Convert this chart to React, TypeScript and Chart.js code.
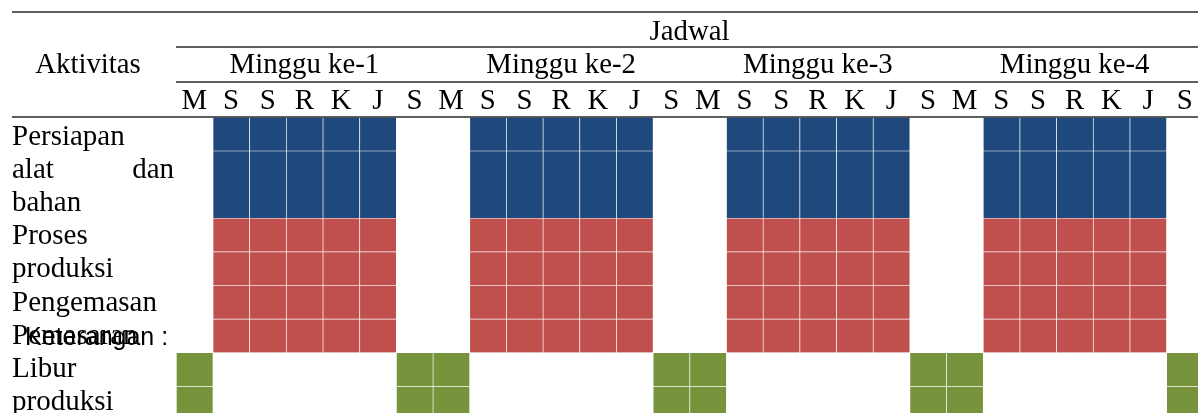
import React, { useEffect, useRef } from "react";
import { Chart, registerables } from "chart.js";

Chart.register(...registerables);

// ---- data ----
const headerTitle = "Jadwal";
const columnTitle = "Aktivitas";
const weekLabels = ["Minggu ke-1", "Minggu ke-2", "Minggu ke-3", "Minggu ke-4"];
const dayLabels = [
  "M", "S", "S", "R", "K", "J", "S",
  "M", "S", "S", "R", "K", "J", "S",
  "M", "S", "S", "R", "K", "J", "S",
  "M", "S", "S", "R", "K", "J", "S",
];
// 1 = day on which the activity runs
const persiapanDays = [0,1,1,1,1,1,0, 0,1,1,1,1,1,0, 0,1,1,1,1,1,0, 0,1,1,1,1,1,0];
const produksiDays  = [0,1,1,1,1,1,0, 0,1,1,1,1,1,0, 0,1,1,1,1,1,0, 0,1,1,1,1,1,0];
const liburDays     = [1,0,0,0,0,0,1, 1,0,0,0,0,0,1, 1,0,0,0,0,0,1, 1,0,0,0,0,0,1];
// text rows of the activity column (row spans below are in these text rows)
const activityLines = [
  "Persiapan", "alat dan", "bahan",
  "Proses", "produksi", "Pengemasan", "Pemasaran",
  "Libur", "produksi",
];
const justifiedLines = [1];
const noteLabel = "Keterangan :";
const noteLine = 6;
const persiapanRows = [[0, 1], [1, 3]];
const produksiRows = [[3, 4], [4, 5], [5, 6], [6, 7]];
const liburRows = [[7, 8], [8, 9]];

const BLUE = "#1F497D";
const RED = "#C0504D";
const GREEN = "#77933C";
const SERIF = '"Liberation Serif", "Times New Roman", serif';
const SANS = '"Liberation Sans", Arial, sans-serif';

function buildDatasets() {
  const groups: [string, number[], number[][], string][] = [
    ["Persiapan alat dan bahan", persiapanDays, persiapanRows, BLUE],
    ["Proses produksi, Pengemasan, Pemasaran", produksiDays, produksiRows, RED],
    ["Libur produksi", liburDays, liburRows, GREEN],
  ];
  const ds: any[] = [];
  groups.forEach(([label, days, rows, color]) => {
    rows.forEach((r) => {
      ds.push({
        label,
        data: days.map((d) => (d ? [r[0], r[1]] : null)),
        backgroundColor: color,
        borderColor: "rgba(255,255,255,0.15)",
        borderWidth: { left: 1, top: 1, right: 0, bottom: 0 },
        borderSkipped: false,
        barPercentage: 1,
        categoryPercentage: 1,
        grouped: false,
      });
    });
  });
  return ds;
}

const tablePlugin = {
  id: "tableText",
  afterDraw(chart: any) {
    const ctx = chart.ctx;
    const xs = chart.scales.x;
    const W = chart.width;
    const left = chart.chartArea.left;
    ctx.save();
    // rules
    ctx.strokeStyle = "#2a2a2a";
    ctx.lineWidth = 1.6;
    const rule = (y: number, x0: number) => {
      ctx.beginPath();
      ctx.moveTo(x0, y);
      ctx.lineTo(W, y);
      ctx.stroke();
    };
    rule(12, 12);
    rule(47, left);
    rule(82, left);
    rule(117, 12);

    ctx.fillStyle = "#000";
    ctx.textBaseline = "alphabetic";
    ctx.font = `28.8px ${SERIF}`;
    ctx.textAlign = "center";
    ctx.fillText(headerTitle, (xs.left + xs.right) / 2, 40);
    weekLabels.forEach((w, i) => {
      ctx.fillText(w, xs.getPixelForValue(i * 7 + 3), 73);
    });
    ctx.fillText(columnTitle, 88, 73);

    // activity column
    ctx.font = `29px ${SERIF}`;
    activityLines.forEach((line, i) => {
      const y = 145 + i * 33.1;
      if (justifiedLines.includes(i)) {
        const words = line.split(" ");
        ctx.textAlign = "left";
        ctx.fillText(words[0], 12, y);
        ctx.textAlign = "right";
        ctx.fillText(words[words.length - 1], 174, y);
      } else {
        ctx.textAlign = "left";
        ctx.fillText(line, 12, y);
      }
    });
    ctx.font = `25px ${SANS}`;
    ctx.textAlign = "left";
    ctx.fillText(noteLabel, 25, 145 + noteLine * 33.1 + 1);
    ctx.restore();
  },
};

export default function App() {
  const ref = useRef<HTMLCanvasElement | null>(null);
  useEffect(() => {
    document.body.style.margin = "0";
    const canvas = ref.current!;
    const chart = new Chart(canvas, {
      type: "bar",
      data: { labels: dayLabels, datasets: buildDatasets() },
      options: {
        animation: false,
        responsive: false,
        devicePixelRatio: 1,
        layout: { padding: { left: 176, top: 0, right: 0, bottom: 0 } },
        plugins: { legend: { display: false }, tooltip: { enabled: false } },
        scales: {
          x: {
            position: "top",
            offset: true,
            grid: { display: false, drawTicks: false },
            border: { display: false },
            ticks: {
              font: { family: SERIF, size: 28.8 },
              color: "#000",
              padding: -2,
              maxRotation: 0,
              autoSkip: false,
            },
            afterFit: (s: any) => {
              s.height = 117;
            },
          },
          y: { display: false, reverse: true, min: 0, max: 8.8 },
        },
      } as any,
      plugins: [tablePlugin],
    });
    return () => chart.destroy();
  }, []);
  return (
    <div style={{ width: 1198, height: 413, overflow: "hidden", background: "#fff" }}>
      <canvas ref={ref} width={1203} height={413} style={{ display: "block", width: 1203, height: 413 }} />
    </div>
  );
}
